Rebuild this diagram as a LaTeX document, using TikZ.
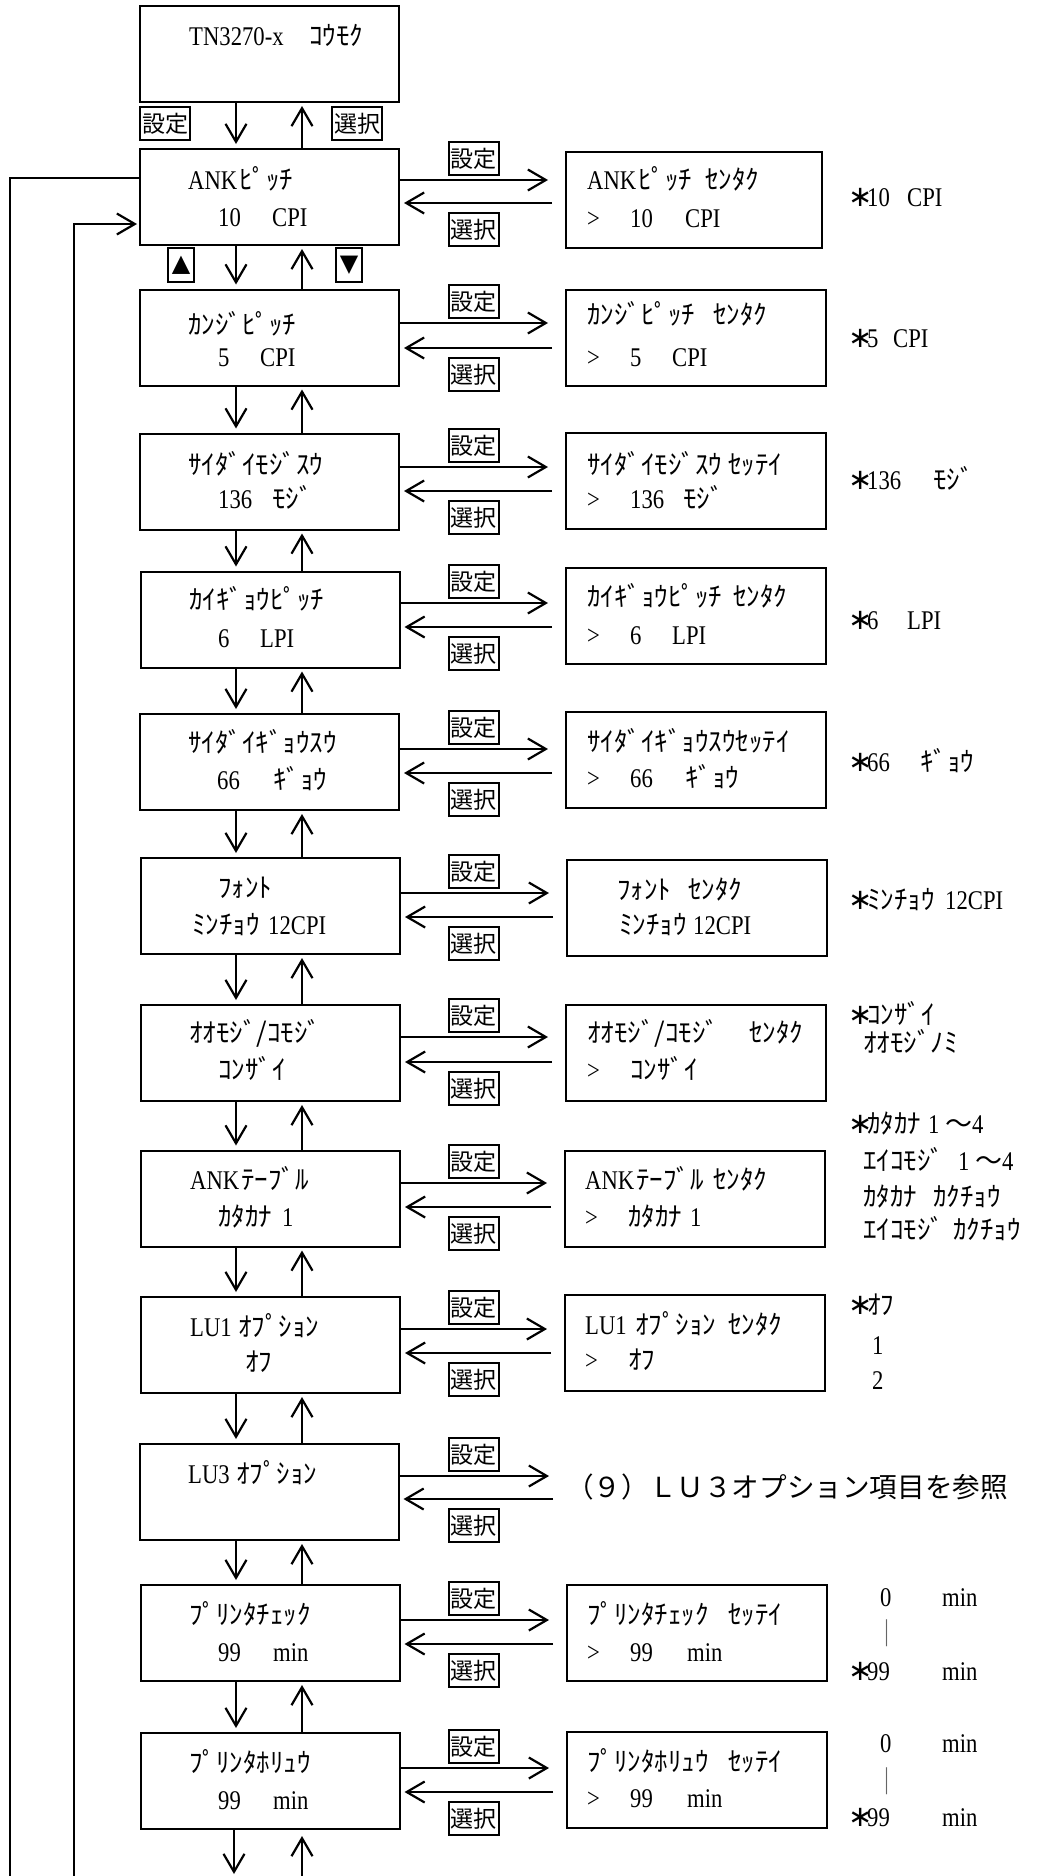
\documentclass[tikz,border=0pt]{standalone}
\usepackage{fontspec}
\setmainfont{Liberation Serif}[FakeStretch=0.84]
\newfontfamily\jpf{Noto Sans CJK JP}
\newfontfamily\symf{DejaVu Sans}
\usetikzlibrary{arrows.meta,calc}
\newcommand\J[1]{{\jpf #1}}
\newcommand\cel[2]{\makebox[#1pt][l]{#2}}
\newcommand\ak{\makebox[16pt][l]{\hspace*{-3pt}\symf\fontsize{29}{29}\selectfont ∗}}
\newcommand\rng{\cel{17}{1}\cel{27}{\J{～}}4}
\tikzset{
 box/.style={draw, line width=2pt, inner sep=0pt, minimum height=96pt},
 lbox/.style={box, minimum width=259pt},
 rbox/.style={box, minimum width=260pt},
 txt/.style={anchor=base west, inner sep=0pt, font=\fontsize{27}{32}\selectfont},
 arr/.style={line width=2.2pt, -{Straight Barb[length=18pt,width=21pt]}},
 plain/.style={line width=2.2pt},
 lab/.style={draw, line width=2pt, inner sep=0pt, minimum width=50pt, minimum height=33pt, font=\jpf\fontsize{23}{23}\selectfont},
 tri/.style={draw, line width=2pt, inner sep=0pt, minimum width=26pt, minimum height=34pt, font=\symf\fontsize{24}{24}\selectfont},
 bar/.style={inner sep=0pt, text=black!60, font=\jpf\fontsize{27}{32}\selectfont},
}
\begin{document}
\begin{tikzpicture}[x=1pt,y=-1pt]
\useasboundingbox (0,0) rectangle (1037,1876);
% ---------- left column boxes
\node[lbox] (L0) at (269.5,54) {};
\node[lbox] (L1) at (269.5,197) {};
\node[lbox] (L2) at (269.5,337.5) {};
\node[lbox] (L3) at (269.5,481.5) {};
\node[lbox] (L4) at (270,619.5) {};
\node[lbox] (L5) at (269.5,762) {};
\node[lbox] (L6) at (270.5,906) {};
\node[lbox] (L7) at (270.5,1053) {};
\node[lbox] (L8) at (270.5,1198.5) {};
\node[lbox] (L9) at (270.5,1345) {};
\node[lbox] (L10) at (269,1492) {};
\node[lbox] (L11) at (270,1633) {};
\node[lbox] (L12) at (270,1781) {};
% ---------- right column boxes
\node[rbox, minimum width=256pt] (R1) at (694,199.5) {};
\node[rbox] (R2) at (696,337.5) {};
\node[rbox] (R3) at (696,480.5) {};
\node[rbox] (R4) at (696,615.5) {};
\node[rbox] (R5) at (696,760) {};
\node[rbox] (R6) at (697,907.5) {};
\node[rbox] (R7) at (696,1053) {};
\node[rbox] (R8) at (695,1198.5) {};
\node[rbox] (R9) at (695,1342.5) {};
\coordinate (R10) at (566,1487);
\node[rbox] (R11) at (697,1632.5) {};
\node[rbox] (R12) at (697,1780) {};
% ---------- top labels
\node[lab] (s0) at (165,123.5) {設定};
\node[lab] (k0) at (357,123.5) {選択};
\node[tri] (tup) at (181,265) {▲};
\node[tri] (tdn) at (349,265) {▼};
% ---------- vertical arrows
\foreach \a/\b in {L0/L1,L1/L2,L2/L3,L3/L4,L4/L5,L5/L6,L6/L7,L7/L8,L8/L9,L9/L10,L10/L11,L11/L12}{
  \draw[arr, shorten >=4pt] (\a.south -| 236,0) -- (\b.north -| 236,0);
  \draw[arr, shorten >=3pt] (\b.north -| 302,0) -- (\a.south -| 302,0);
}
\coordinate (db) at (234,1874);
\coordinate (ub) at (302,1876);
\draw[arr] (L12.south -| db) -- (db);
\draw[arr, shorten >=6pt] (ub) -- (L12.south -| ub);
% ---------- feedback loops
\coordinate (o1) at (10,1876);
\coordinate (i1) at (74,1876);
\draw[plain] (L1.west |- 0,178) -| (o1);
\draw[arr, shorten >=2pt] (i1) |- (L1.west |- 0,224);
% ---------- horizontal arrows and labels
\foreach \n/\ra/\la in {1/180/203,2/323/348,3/467/491,4/603/627,5/749/773,6/893/917,7/1037/1062,8/1183/1207,9/1329/1353,10/1476/1499,11/1620/1644,12/1768/1792}{
  \draw[arr, shorten >=17pt] (L\n.east |- 0,\ra) -- (R\n.west |- 0,\ra);
  \draw[arr, shorten <=13pt, shorten >=4pt] (R\n.west |- 0,\la) -- (L\n.east |- 0,\la);
  \node[lab] (s\n) at (473.5,\ra-21.5) {設定};
  \node[lab] (k\n) at (473.5,\la+26.5) {選択};
}
% ---------- texts
\node[txt] (t0) at (189,46) {\cel{120}{TN3270-x}\J{ｺｳﾓｸ}};
% row 1
\node[txt] (t1a) at (188,189) {\cel{51}{ANK}\J{ﾋﾟｯﾁ}};
\node[txt] (t1b) at (218,226) {\cel{54}{10}CPI};
\node[txt] (r1a) at (587,189) {\cel{51}{ANK}\cel{67}{\J{ﾋﾟｯﾁ}}\J{ｾﾝﾀｸ}};
\node[txt] (r1b) at (587,227) {\cel{43}{>}\cel{55}{10}CPI};
\node[txt] (n1) at (851,206) {\ak\cel{40}{10}CPI};
% row 2
\node[txt] (t2a) at (188,334) {\J{ｶﾝｼﾞﾋﾟｯﾁ}};
\node[txt] (t2b) at (218,366) {\cel{42}{5}CPI};
\node[txt] (r2a) at (587,324) {\cel{126}{\J{ｶﾝｼﾞﾋﾟｯﾁ}}\J{ｾﾝﾀｸ}};
\node[txt] (r2b) at (587,366) {\cel{43}{>}\cel{42}{5}CPI};
\node[txt] (n2) at (851,347) {\ak\cel{26}{5}CPI};
% row 3
\node[txt] (t3a) at (188,474) {\J{ｻｲﾀﾞｲﾓｼﾞｽｳ}};
\node[txt] (t3b) at (218,508) {\cel{54}{136}\J{ﾓｼﾞ}};
\node[txt] (r3a) at (587,474) {\cel{141}{\J{ｻｲﾀﾞｲﾓｼﾞｽｳ}}\J{ｾｯﾃｲ}};
\node[txt] (r3b) at (587,508) {\cel{43}{>}\cel{53}{136}\J{ﾓｼﾞ}};
\node[txt] (n3) at (851,489) {\ak\cel{66}{136}\J{ﾓｼﾞ}};
% row 4
\node[txt] (t4a) at (189,609) {\J{ｶｲｷﾞｮｳﾋﾟｯﾁ}};
\node[txt] (t4b) at (218,647) {\cel{42}{6}LPI};
\node[txt] (r4a) at (587,606) {\cel{146}{\J{ｶｲｷﾞｮｳﾋﾟｯﾁ}}\J{ｾﾝﾀｸ}};
\node[txt] (r4b) at (587,644) {\cel{43}{>}\cel{42}{6}LPI};
\node[txt] (n4) at (851,629) {\ak\cel{40}{6}LPI};
% row 5
\node[txt] (t5a) at (188,752) {\J{ｻｲﾀﾞｲｷﾞｮｳｽｳ}};
\node[txt] (t5b) at (217,789) {\cel{56}{66}\J{ｷﾞｮｳ}};
\node[txt] (r5a) at (587,751) {\J{ｻｲﾀﾞｲｷﾞｮｳｽｳｾｯﾃｲ}};
\node[txt] (r5b) at (587,787) {\cel{43}{>}\cel{55}{66}\J{ｷﾞｮｳ}};
\node[txt] (n5) at (851,771) {\ak\cel{53}{66}\J{ｷﾞｮｳ}};
% row 6
\node[txt] (t6a) at (218,897) {\J{ﾌｫﾝﾄ}};
\node[txt] (t6b) at (192,934) {\cel{76}{\J{ﾐﾝﾁｮｳ}}12CPI};
\node[txt] (r6a) at (617,899) {\cel{71}{\J{ﾌｫﾝﾄ}}\J{ｾﾝﾀｸ}};
\node[txt] (r6b) at (619,934) {\cel{74}{\J{ﾐﾝﾁｮｳ}}12CPI};
\node[txt] (n6) at (851,909) {\ak\cel{78}{\J{ﾐﾝﾁｮｳ}}12CPI};
% row 7
\node[txt] (t7a) at (189,1042) {\J{ｵｵﾓｼﾞ/ｺﾓｼﾞ}};
\node[txt] (t7b) at (218,1079) {\J{ｺﾝｻﾞｲ}};
\node[txt] (r7a) at (587,1042) {\cel{162}{\J{ｵｵﾓｼﾞ/ｺﾓｼﾞ}}\J{ｾﾝﾀｸ}};
\node[txt] (r7b) at (587,1079) {\cel{43}{>}\J{ｺﾝｻﾞｲ}};
\node[txt] (n7a) at (851,1024) {\ak\J{ｺﾝｻﾞｲ}};
\node[txt] (n7b) at (863,1052) {\J{ｵｵﾓｼﾞﾉﾐ}};
% row 8
\node[txt] (t8a) at (190,1189) {\cel{51}{ANK}\J{ﾃｰﾌﾞﾙ}};
\node[txt] (t8b) at (218,1226) {\cel{64}{\J{ｶﾀｶﾅ}}1};
\node[txt] (r8a) at (585,1189) {\cel{51}{ANK}\cel{77}{\J{ﾃｰﾌﾞﾙ}}\J{ｾﾝﾀｸ}};
\node[txt] (r8b) at (585,1226) {\cel{43}{>}\cel{62}{\J{ｶﾀｶﾅ}}1};
\node[txt] (n8a) at (851,1133) {\ak\cel{61}{\J{ｶﾀｶﾅ}}\rng};
\node[txt] (n8b) at (863,1170) {\cel{95}{\J{ｴｲｺﾓｼﾞ}}\rng};
\node[txt] (n8c) at (863,1206) {\cel{70}{\J{ｶﾀｶﾅ}}\J{ｶｸﾁｮｳ}};
\node[txt] (n8d) at (863,1239) {\cel{90}{\J{ｴｲｺﾓｼﾞ}}\J{ｶｸﾁｮｳ}};
% row 9
\node[txt] (t9a) at (190,1336) {\cel{48}{LU1}\J{ｵﾌﾟｼｮﾝ}};
\node[txt] (t9b) at (245,1371) {\J{ｵﾌ}};
\node[txt] (r9a) at (585,1334) {\cel{50}{LU1}\cel{93}{\J{ｵﾌﾟｼｮﾝ}}\J{ｾﾝﾀｸ}};
\node[txt] (r9b) at (585,1369) {\cel{43}{>}\J{ｵﾌ}};
\node[txt] (n9a) at (851,1314) {\ak\J{ｵﾌ}};
\node[txt] (n9b) at (872,1354) {1};
\node[txt] (n9c) at (872,1389) {2};
% row 10
\node[txt] (t10a) at (188,1483) {\cel{48}{LU3}\J{ｵﾌﾟｼｮﾝ}};
\node[txt, font=\jpf\fontsize{27.6}{32}\selectfont] (r10a) at (566,1497) {（９）ＬＵ３オプション項目を参照};
% row 11
\node[txt] (t11a) at (189,1624) {\J{ﾌﾟﾘﾝﾀﾁｪｯｸ}};
\node[txt] (t11b) at (218,1661) {\cel{55}{99}min};
\node[txt] (r11a) at (587,1624) {\cel{141}{\J{ﾌﾟﾘﾝﾀﾁｪｯｸ}}\J{ｾｯﾃｲ}};
\node[txt] (r11b) at (587,1661) {\cel{43}{>}\cel{57}{99}min};
\node[txt] (n11a) at (880,1606) {\cel{62}{0}min};
\node[bar] (n11b) at (887,1633) {｜};
\node[txt] (n11c) at (851,1680) {\ak\cel{75}{99}min};
% row 12
\node[txt] (t12a) at (189,1772) {\J{ﾌﾟﾘﾝﾀﾎﾘｭｳ}};
\node[txt] (t12b) at (218,1809) {\cel{55}{99}min};
\node[txt] (r12a) at (587,1771) {\cel{141}{\J{ﾌﾟﾘﾝﾀﾎﾘｭｳ}}\J{ｾｯﾃｲ}};
\node[txt] (r12b) at (587,1807) {\cel{43}{>}\cel{57}{99}min};
\node[txt] (n12a) at (880,1752) {\cel{62}{0}min};
\node[bar] (n12b) at (887,1781) {｜};
\node[txt] (n12c) at (851,1826) {\ak\cel{75}{99}min};
\end{tikzpicture}
\end{document}
